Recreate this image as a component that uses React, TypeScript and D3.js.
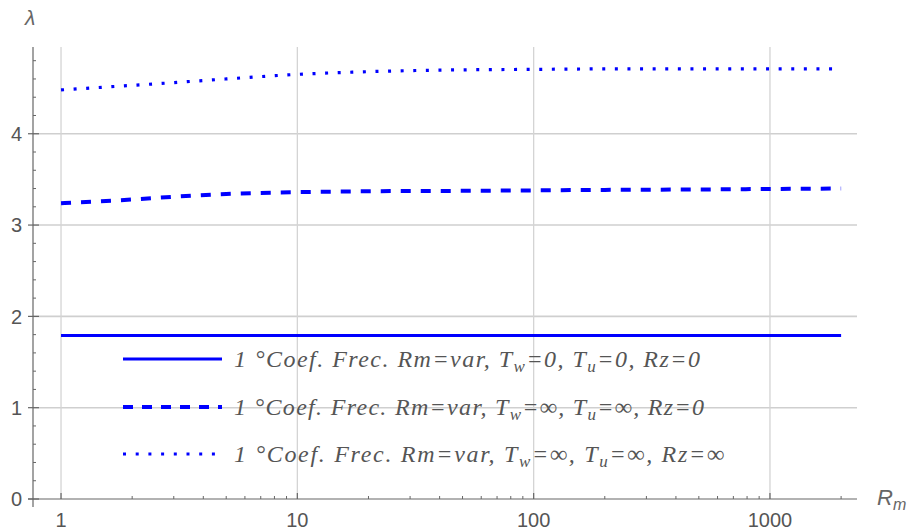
import React from "react";
import * as d3 from "d3";

// Rm sample points (log axis) and eigenvalue lambda for each boundary case
const rm = [1, 2, 3, 5, 10, 20, 50, 100, 200, 500, 1000, 2000];
const lambdaZero = [1.79, 1.79, 1.79, 1.79, 1.79, 1.79, 1.79, 1.79, 1.79, 1.79, 1.79, 1.79];
const lambdaInfRz0 = [3.24, 3.28, 3.31, 3.34, 3.36, 3.37, 3.375, 3.38, 3.385, 3.39, 3.395, 3.4];
const lambdaInfRzInf = [4.48, 4.53, 4.56, 4.6, 4.65, 4.68, 4.7, 4.705, 4.71, 4.71, 4.71, 4.71];

const xTicks = [1, 10, 100, 1000];
const xTickLabels = ["1", "10", "100", "1000"];
const yTicks = [0, 1, 2, 3, 4];

const legendLabels = [
  { w: "0", u: "0", rz: "0", dash: "none", width: 3 },
  { w: "∞", u: "∞", rz: "0", dash: "10 9", width: 4 },
  { w: "∞", u: "∞", rz: "∞", dash: "3 9.7", width: 3 },
];

const W = 916;
const H = 530;
const BLUE = "#0000ff";
const GRAY = "#666666";

export default function App() {
  const x = d3.scaleLog().domain([0.761, 2335]).range([33, 857]);
  const y = d3.scaleLinear().domain([0, 4.95]).range([499, 47]);

  const line = d3
    .line<number>()
    .x((_, i) => x(rm[i]))
    .y((d) => y(d))
    .curve(d3.curveMonotoneX);

  const series = [
    { vals: lambdaZero, dash: "none", width: 3 },
    { vals: lambdaInfRz0, dash: "10 10", width: 4 },
    { vals: lambdaInfRzInf, dash: "3 9.6", width: 3.2 },
  ];

  // minor ticks on the log axis (2..9 per decade)
  const minorX: number[] = [];
  for (let p = 0; p <= 3; p++) {
    for (let k = 2; k <= 9; k++) {
      const v = k * Math.pow(10, p);
      if (v < 2335) minorX.push(v);
    }
  }
  const minorY = d3.range(0.2, 4.95, 0.2).filter((v) => Math.abs(v - Math.round(v)) > 1e-6);

  const legendRows = [359, 407, 454];
  const legendWidths = [466, 470, 490];

  return (
    <svg width={W} height={H} style={{ position: "absolute", left: 0, top: 0, background: "#fff" }}>
      {/* grid */}
      {yTicks.filter((t) => t > 0).map((t) => (
        <line key={"gy" + t} x1={33} x2={857} y1={y(t)} y2={y(t)} stroke="#cfcfcf" strokeWidth={1.6} />
      ))}
      {xTicks.map((t) => (
        <line key={"gx" + t} x1={x(t)} x2={x(t)} y1={47} y2={499} stroke="#d4d4d4" strokeWidth={1.3} />
      ))}

      {/* axes */}
      <line x1={33} x2={33} y1={47} y2={507} stroke={GRAY} strokeWidth={1.2} />
      <line x1={28} x2={857} y1={499} y2={499} stroke={GRAY} strokeWidth={1.2} />
      {minorY.map((t) => (
        <line key={"my" + t} x1={33} x2={36} y1={y(t)} y2={y(t)} stroke={GRAY} strokeWidth={1} />
      ))}
      {yTicks.map((t) => (
        <line key={"My" + t} x1={28} x2={39} y1={y(t)} y2={y(t)} stroke={GRAY} strokeWidth={1.2} />
      ))}
      {minorX.map((t) => (
        <line key={"mx" + t} x1={x(t)} x2={x(t)} y1={499} y2={496} stroke={GRAY} strokeWidth={1} />
      ))}
      {xTicks.map((t) => (
        <line key={"Mx" + t} x1={x(t)} x2={x(t)} y1={499} y2={493} stroke={GRAY} strokeWidth={1.2} />
      ))}

      {/* tick labels */}
      {yTicks.map((t) => (
        <text
          key={"ly" + t}
          x={22}
          y={y(t)}
          dy="0.36em"
          textAnchor="end"
          fontFamily="Liberation Sans, Arial, sans-serif"
          fontSize={20}
          fill="#555"
        >
          {t}
        </text>
      ))}
      {xTicks.map((t, i) => (
        <text
          key={"lx" + t}
          x={x(t)}
          y={527}
          textAnchor="middle"
          fontFamily="Liberation Sans, Arial, sans-serif"
          fontSize={20}
          fill="#555"
        >
          {xTickLabels[i]}
        </text>
      ))}

      {/* axis titles */}
      <text x={25} y={25} fontFamily="Liberation Sans, Arial, sans-serif" fontStyle="italic" fontSize={21} fill="#666">
        λ
      </text>
      <text x={877} y={505} fontFamily="Liberation Sans, Arial, sans-serif" fontStyle="italic" fontSize={22} fill="#666">
        R
        <tspan fontSize={16} dy={5}>m</tspan>
      </text>

      {/* curves */}
      {series.map((s, i) => (
        <path
          key={"s" + i}
          d={line(s.vals) || ""}
          fill="none"
          stroke={BLUE}
          strokeWidth={s.width}
          strokeDasharray={s.dash}
        />
      ))}

      {/* legend */}
      {legendLabels.map((l, i) => (
        <g key={"lg" + i}>
          <line
            x1={123}
            x2={222}
            y1={legendRows[i]}
            y2={legendRows[i]}
            stroke={BLUE}
            strokeWidth={l.width}
            strokeDasharray={l.dash}
          />
          <text
            x={234}
            y={legendRows[i] + 8}
            fontFamily="Liberation Serif, Times New Roman, serif"
            fontStyle="italic"
            fontSize={24}
            fill="#555"
            textLength={legendWidths[i]}
            lengthAdjust="spacing"
          >
            {"1 °Coef. Frec. Rm=var, T"}
            <tspan fontSize={17} dy={5}>w</tspan>
            <tspan dy={-5}>{"=" + l.w + ", T"}</tspan>
            <tspan fontSize={17} dy={5}>u</tspan>
            <tspan dy={-5}>{"=" + l.u + ", Rz=" + l.rz}</tspan>
          </text>
        </g>
      ))}
    </svg>
  );
}
